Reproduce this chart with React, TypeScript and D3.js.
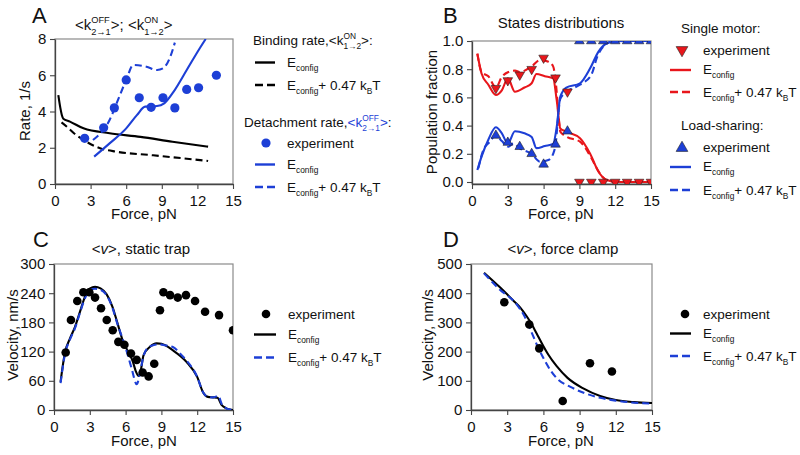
import React, { useEffect, useRef } from "react";
import * as d3 from "d3";

const FONT = "'Liberation Sans', Arial, Helvetica, sans-serif";
const BLUE = "#1d3fd6";
const RED = "#e8161b";

// ---------- Panel A data ----------
const aTicksX = [0, 3, 6, 9, 12, 15];
const aTicksY = [0, 2, 4, 6, 8];
const aBindSolidF = [0.28, 0.45, 0.6, 0.7, 1.26, 2.4, 4.6, 7.2, 9.9, 12.9];
const aBindSolidR = [4.9, 4.2, 3.75, 3.6, 3.44, 3.07, 2.8, 2.6, 2.33, 2.06];
const aBindDashF = [0.55, 1.0, 1.6, 2.4, 3.8, 5.2, 8.0, 10, 12.9];
const aBindDashR = [3.4, 3.16, 2.8, 2.43, 1.97, 1.78, 1.6, 1.47, 1.27];
const aDetSolidF = [3.3, 4.6, 6.0, 6.9, 7.6, 8.6, 9.2, 10, 11.1, 12.2, 12.7];
const aDetSolidR = [1.51, 2.24, 3.07, 3.8, 4.27, 4.3, 4.45, 5.1, 6.29, 7.49, 8.0];
const aDetDashF = [3.2, 4.6, 5.3, 6.0, 6.6, 7.7, 8.6, 9.1, 9.7, 10.1];
const aDetDashR = [2.43, 3.53, 4.63, 5.74, 6.57, 6.47, 6.29, 6.38, 7.0, 7.8];
const aExpF = [2.5, 4.1, 5.0, 6.0, 7.1, 8.1, 9.1, 10.1, 11.1, 12.1, 13.6];
const aExpR = [2.52, 3.1, 4.2, 5.74, 4.76, 4.23, 4.76, 4.2, 5.22, 5.31, 6.0];

// ---------- Panel B data ----------
const bTicksY = [0, 0.2, 0.4, 0.6, 0.8, 1.0];
const bSolidF = [0.45, 0.8, 1.37, 2.0, 2.5, 3.0, 3.6, 4.4, 5.0, 5.4, 6.1, 6.8, 7.1, 7.4, 7.9, 9.05, 9.9, 10.6, 11.3, 12, 13, 14, 15];
const bRedSolidP = [0.91, 0.77, 0.69, 0.617, 0.65, 0.735, 0.64, 0.67, 0.7, 0.766, 0.75, 0.735, 0.58, 0.38, 0.357, 0.31, 0.2, 0.073, 0.014, 0.002, 0, 0, 0];
const bBlueSolidP = [0.085, 0.18, 0.3, 0.388, 0.345, 0.274, 0.36, 0.345, 0.32, 0.24, 0.255, 0.27, 0.39, 0.605, 0.67, 0.7, 0.806, 0.925, 0.984, 0.998, 1, 1, 1];
const bRedDashF = [0.45, 0.8, 1.37, 2.0, 2.5, 3.05, 3.6, 4.0, 5.0, 5.7, 6.4, 6.8, 7.04, 7.23, 7.4, 7.95, 9.05, 10, 10.5, 11, 11.5, 12, 13, 14, 15];
const bRedDashP = [0.91, 0.78, 0.75, 0.67, 0.745, 0.78, 0.79, 0.78, 0.82, 0.865, 0.853, 0.82, 0.69, 0.5, 0.357, 0.32, 0.286, 0.17, 0.09, 0.03, 0.005, 0, 0, 0, 0];
const bBlueDashF = [0.53, 0.95, 1.5, 2.0, 2.5, 3.05, 3.47, 4.0, 5.0, 5.7, 6.4, 6.8, 7.04, 7.2, 7.4, 7.95, 9.05, 10, 10.5, 11, 11.5, 12, 13, 14, 15];
const bBlueDashP = [0.097, 0.227, 0.286, 0.333, 0.29, 0.25, 0.274, 0.239, 0.2, 0.144, 0.156, 0.2, 0.29, 0.45, 0.59, 0.64, 0.69, 0.76, 0.89, 0.96, 0.99, 1, 1, 1, 1];
const bExpF = [2, 3, 4, 5, 6, 7, 8, 9, 10, 11, 12, 13, 14, 15];
const bSingleP = [0.665, 0.72, 0.76, 0.8, 0.88, 0.74, 0.64, 0, 0, 0, 0, 0, 0, 0];
const bLoadP = [0.33, 0.28, 0.25, 0.2, 0.125, 0.267, 0.36, 1, 1, 1, 1, 1, 1, 1];

// ---------- Panel C data ----------
const cTicksY = [0, 60, 120, 180, 240, 300];
const cSolidF = [0.55, 0.92, 1.34, 1.76, 2.18, 2.6, 3.02, 3.44, 3.9, 4.4, 4.9, 5.3, 5.8, 6.3, 6.6, 6.85, 7.1, 7.3, 7.5, 8.05, 8.6, 9.0, 10.0, 11.1, 12.0, 12.5, 12.9, 13.35, 13.7, 14.06, 14.4, 14.75, 15];
const cSolidV = [58, 118, 147, 171, 202, 233, 250, 253, 250, 238, 212, 180, 140, 116, 100, 80, 70, 85, 112, 130, 137, 136, 122, 99, 68, 36, 27, 26, 25, 10, 4, 1, 0];
const cDashF = [0.55, 0.92, 1.34, 1.76, 2.18, 2.6, 3.02, 3.44, 3.9, 4.4, 4.9, 5.3, 5.7, 6.1, 6.5, 6.93, 7.2, 7.49, 7.82, 8.3, 8.8, 9.3, 10.0, 10.6, 11.1, 12.0, 12.5, 12.9, 13.35, 13.77, 14.06, 14.4, 14.75, 15];
const cDashV = [55, 115, 145, 168, 200, 230, 247, 249, 247, 236, 210, 178, 150, 120, 86, 53, 75, 110, 127, 133, 135, 133, 129, 115, 102, 68, 36, 27, 26, 29, 12, 4, 1, 0];
const cExpF = [0.98, 1.42, 1.95, 2.46, 2.96, 3.44, 3.94, 4.42, 4.92, 5.39, 5.9, 6.45, 6.93, 7.43, 7.93, 8.4, 8.88, 9.17, 9.73, 10.37, 11.06, 11.82, 12.66, 13.83, 15.0];
const cExpV = [118, 185, 224, 242, 242, 231, 209, 185, 164, 140, 134, 116, 103, 77, 69, 95, 205, 242, 236, 231, 236, 224, 202, 195, 164];

// ---------- Panel D data ----------
const dTicksY = [0, 100, 200, 300, 400, 500];
const dSolidF = [1.08, 2.4, 3.5, 4.1, 4.6, 5.0, 5.44, 5.9, 6.4, 7.1, 8.0, 9.3, 10.7, 12.0, 13.5, 15];
const dSolidV = [470, 420, 375, 350, 322, 296, 262, 226, 190, 150, 110, 74, 48, 34, 27, 24];
const dDashF = [1.08, 2.4, 3.78, 4.47, 5.03, 5.5, 6.1, 6.6, 7.2, 8.2, 9.4, 10.7, 12.0, 13.0, 15];
const dDashV = [468, 412, 362, 318, 265, 220, 170, 135, 105, 80, 58, 42, 32, 27, 22];
const dExpF = [2.76, 4.83, 5.66, 7.6, 9.86, 11.68];
const dExpV = [369, 293, 211, 31, 160, 132];

type Part = { t?: string; sup?: string; sub?: string; fill?: string; italic?: boolean };

function rich(
  sel: any,
  x: number,
  y: number,
  parts: Part[],
  size: number,
  anchor: "start" | "middle" = "start",
  rotate = 0
) {
  const g = sel.append("g");
  const text = g.append("text").attr("x", 0).attr("y", 0).attr("font-size", size).attr("font-family", FONT).attr("fill", "#111");
  let shift = 0;
  const small = size * 0.62;
  parts.forEach((p) => {
    if (p.t !== undefined) {
      const ts = text.append("tspan").attr("dy", -shift).attr("font-size", size).text(p.t);
      if (p.fill) ts.attr("fill", p.fill);
      if (p.italic) ts.attr("font-style", "italic");
      shift = 0;
    } else if (p.sup !== undefined && p.sub !== undefined) {
      const upY = -size * 0.45;
      const dnY = size * 0.3;
      const a = text.append("tspan").attr("dy", upY - shift).attr("font-size", small).text(p.sup);
      if (p.fill) a.attr("fill", p.fill);
      const wa = (a.node() as any).getComputedTextLength();
      const b = text.append("tspan").attr("dx", -wa).attr("dy", dnY - upY).attr("font-size", small).text(p.sub);
      if (p.fill) b.attr("fill", p.fill);
      const wb = (b.node() as any).getComputedTextLength();
      shift = dnY;
      if (wa > wb) {
        const c = text.append("tspan").attr("dx", wa - wb).text("");
      }
    } else if (p.sub !== undefined) {
      const dnY = size * 0.3;
      const b = text.append("tspan").attr("dy", dnY - shift).attr("font-size", small).text(p.sub);
      if (p.fill) b.attr("fill", p.fill);
      shift = dnY;
    } else if (p.sup !== undefined) {
      const upY = -size * 0.45;
      const b = text.append("tspan").attr("dy", upY - shift).attr("font-size", small).text(p.sup);
      if (p.fill) b.attr("fill", p.fill);
      shift = upY;
    }
  });
  const w = (text.node() as any).getComputedTextLength();
  const off = anchor === "middle" ? -w / 2 : 0;
  text.attr("x", off);
  g.attr("transform", `translate(${x},${y}) rotate(${rotate})`);
  return g;
}

const EC: Part[] = [{ t: "E" }, { sub: "config" }];
const ECK: Part[] = [{ t: "E" }, { sub: "config" }, { t: "+ 0.47 k" }, { sub: "B" }, { t: "T" }];

interface Box { x0: number; x1: number; y0: number; y1: number; }

function makePanel(svg: any, id: string, box: Box, yDomain: [number, number], yTicks: number[], yMinor: number[], yFmt: (v: number) => string) {
  const x = d3.scaleLinear().domain([0, 15]).range([box.x0, box.x1]);
  const y = d3.scaleLinear().domain(yDomain).range([box.y1, box.y0]);
  const g = svg.append("g");
  g.append("clipPath").attr("id", id).append("rect").attr("x", box.x0).attr("y", box.y0).attr("width", box.x1 - box.x0).attr("height", box.y1 - box.y0);
  // frame
  g.append("rect").attr("x", box.x0).attr("y", box.y0).attr("width", box.x1 - box.x0).attr("height", box.y1 - box.y0).attr("fill", "none").attr("stroke", "#8a8a8a").attr("stroke-width", 1.2);
  const xMinor = d3.range(0, 16, 1).filter((v) => v % 3 !== 0);
  const axX = g.append("g").attr("transform", `translate(0,${box.y1})`);
  axX.call(d3.axisBottom(x).tickValues(xMinor).tickSize(3).tickFormat(() => ""));
  axX.call(d3.axisBottom(x).tickValues(aTicksX).tickSize(5).tickSizeOuter(0).tickFormat((d: any) => String(d)));
  const axY = g.append("g").attr("transform", `translate(${box.x0},0)`);
  axY.call(d3.axisLeft(y).tickValues(yMinor).tickSize(3).tickFormat(() => ""));
  axY.call(d3.axisLeft(y).tickValues(yTicks).tickSize(5).tickSizeOuter(0).tickFormat((d: any) => yFmt(d)));
  [axX, axY].forEach((a) => {
    a.selectAll("path").attr("stroke", "#444").attr("stroke-width", 1.3);
    a.selectAll("line").attr("stroke", "#444").attr("stroke-width", 1.1);
    a.selectAll("text").attr("font-family", FONT).attr("font-size", 15).attr("fill", "#111");
  });
  axX.selectAll("text").attr("dy", "0.95em");
  axY.selectAll("text").attr("dx", "-0.05em");
  const plot = g.append("g").attr("clip-path", `url(#${id})`);
  return { x, y, g, plot };
}

function drawLine(plot: any, x: any, y: any, fs: number[], vs: number[], color: string, dashed: boolean) {
  const pts: [number, number][] = fs.map((f, i) => [f, vs[i]]);
  const line = d3.line<[number, number]>().x((d) => x(d[0])).y((d) => y(d[1])).curve(d3.curveMonotoneX);
  plot.append("path").attr("d", line(pts)).attr("fill", "none").attr("stroke", color).attr("stroke-width", 2.1)
    .attr("stroke-dasharray", dashed ? "7,4" : null).attr("stroke-linejoin", "round");
}

function drawDots(plot: any, x: any, y: any, fs: number[], vs: number[], color: string, r: number) {
  plot.selectAll(null).data(fs.map((f, i) => [f, vs[i]])).enter().append("circle")
    .attr("cx", (d: any) => x(d[0])).attr("cy", (d: any) => y(d[1])).attr("r", r).attr("fill", color);
}

function drawTri(plot: any, x: any, y: any, fs: number[], vs: number[], color: string, down: boolean, size: number) {
  const sym = d3.symbol().type(d3.symbolTriangle).size(size);
  plot.selectAll(null).data(fs.map((f, i) => [f, vs[i]])).enter().append("path")
    .attr("d", sym() as string)
    .attr("transform", (d: any) => `translate(${x(d[0])},${y(d[1])}) rotate(${down ? 180 : 0})`)
    .attr("fill", color).attr("stroke", "#222").attr("stroke-width", 0.6);
}

function legLine(svg: any, x0: number, x1: number, yy: number, color: string, dashed: boolean) {
  svg.append("line").attr("x1", x0).attr("x2", x1).attr("y1", yy).attr("y2", yy).attr("stroke", color).attr("stroke-width", 2.4)
    .attr("stroke-dasharray", dashed ? "8,4" : null);
}

function label(svg: any, x: number, y: number, txt: string, size: number, anchor = "middle", rotate = 0, weight = "normal") {
  svg.append("text").attr("transform", `translate(${x},${y}) rotate(${rotate})`).attr("text-anchor", anchor)
    .attr("font-family", FONT).attr("font-size", size).attr("font-weight", weight).attr("fill", "#111").text(txt);
}

export default function App() {
  const ref = useRef<SVGSVGElement>(null);
  useEffect(() => {
    const svg = d3.select(ref.current);
    svg.selectAll("*").remove();
    svg.append("rect").attr("width", 800).attr("height", 455).attr("fill", "#fff");

    const LS = 13.5; // legend font size

    // ---------------- Panel A ----------------
    const A = makePanel(svg, "clipA", { x0: 55, x1: 233, y0: 39, y1: 184 }, [0, 8], aTicksY, [1, 3, 5, 7], (d) => String(d));
    drawLine(A.plot, A.x, A.y, aBindSolidF, aBindSolidR, "#000", false);
    drawLine(A.plot, A.x, A.y, aBindDashF, aBindDashR, "#000", true);
    drawLine(A.plot, A.x, A.y, aDetSolidF, aDetSolidR, BLUE, false);
    drawLine(A.plot, A.x, A.y, aDetDashF, aDetDashR, BLUE, true);
    drawDots(A.plot, A.x, A.y, aExpF, aExpR, BLUE, 4.6);
    label(svg, 32, 23, "A", 22, "start");
    rich(svg, 140, 30, [{ t: "<k" }, { sup: "OFF", sub: "2\u21921" }, { t: ">; <k" }, { sup: "ON", sub: "1\u21922" }, { t: ">" }], 15, "middle");
    label(svg, 30, 111, "Rate, 1/s", 15, "middle", -90);
    label(svg, 144, 219, "Force, pN", 15, "middle");
    // legend A
    rich(svg, 253, 45, [{ t: "Binding rate,<k" }, { sup: "ON", sub: "1\u21922" }, { t: ">:" }], LS);
    legLine(svg, 255, 275, 62.5, "#000", false);
    rich(svg, 287, 67, EC, LS);
    legLine(svg, 255, 275, 85, "#000", true);
    rich(svg, 287, 90, ECK, LS);
    rich(svg, 244, 127, [{ t: "Detachment rate," }, { t: "<k", fill: BLUE }, { sup: "OFF", sub: "2\u21921", fill: BLUE }, { t: ">", fill: BLUE }, { t: ":" }], LS);
    svg.append("circle").attr("cx", 266).attr("cy", 143).attr("r", 4.6).attr("fill", BLUE);
    rich(svg, 287, 148, [{ t: "experiment" }], LS);
    legLine(svg, 255, 275, 164.5, BLUE, false);
    rich(svg, 287, 169, EC, LS);
    legLine(svg, 255, 275, 187, BLUE, true);
    rich(svg, 287, 192, ECK, LS);

    // ---------------- Panel B ----------------
    const B = makePanel(svg, "clipB", { x0: 472, x1: 651, y0: 41, y1: 184 }, [-0.0142, 1.0], bTicksY, [0.1, 0.3, 0.5, 0.7, 0.9], (d) => d.toFixed(1));
    drawLine(B.plot, B.x, B.y, bSolidF, bRedSolidP, RED, false);
    drawLine(B.plot, B.x, B.y, bRedDashF, bRedDashP, RED, true);
    drawLine(B.plot, B.x, B.y, bSolidF, bBlueSolidP, BLUE, false);
    drawLine(B.plot, B.x, B.y, bBlueDashF, bBlueDashP, BLUE, true);
    drawTri(B.plot, B.x, B.y, bExpF, bSingleP, RED, true, 40);
    drawTri(B.plot, B.x, B.y, bExpF, bLoadP, BLUE, false, 40);
    label(svg, 443, 23, "B", 22, "start");
    label(svg, 561, 28, "States distributions", 15, "middle");
    label(svg, 437, 112, "Population fraction", 15, "middle", -90);
    label(svg, 561, 219, "Force, pN", 15, "middle");
    // legend B
    rich(svg, 681, 33, [{ t: "Single motor:" }], LS);
    svg.append("path").attr("d", d3.symbol().type(d3.symbolTriangle).size(60)() as string)
      .attr("transform", "translate(682,50) rotate(180)").attr("fill", RED).attr("stroke", "#222").attr("stroke-width", 0.6);
    rich(svg, 703, 55, [{ t: "experiment" }], LS);
    legLine(svg, 670, 691, 70, RED, false);
    rich(svg, 703, 74, EC, LS);
    legLine(svg, 670, 691, 92, RED, true);
    rich(svg, 703, 97, ECK, LS);
    rich(svg, 681, 130, [{ t: "Load-sharing:" }], LS);
    svg.append("path").attr("d", d3.symbol().type(d3.symbolTriangle).size(60)() as string)
      .attr("transform", "translate(682,148)").attr("fill", BLUE).attr("stroke", "#222").attr("stroke-width", 0.6);
    rich(svg, 703, 152, [{ t: "experiment" }], LS);
    legLine(svg, 670, 691, 167, BLUE, false);
    rich(svg, 703, 171, EC, LS);
    legLine(svg, 670, 691, 190, BLUE, true);
    rich(svg, 703, 195, ECK, LS);

    // ---------------- Panel C ----------------
    const C = makePanel(svg, "clipC", { x0: 54, x1: 233, y0: 264, y1: 410 }, [0, 300], cTicksY, [30, 90, 150, 210, 270], (d) => String(d));
    drawLine(C.plot, C.x, C.y, cSolidF, cSolidV, "#000", false);
    drawLine(C.plot, C.x, C.y, cDashF, cDashV, BLUE, true);
    drawDots(C.plot, C.x, C.y, cExpF, cExpV, "#000", 4.3);
    label(svg, 33, 247, "C", 22, "start");
    rich(svg, 141, 254, [{ t: "<" }, { t: "v", italic: true }, { t: ">, static trap" }], 15, "middle");
    label(svg, 18, 335, "Velocity, nm/s", 15, "middle", -90);
    label(svg, 144, 446, "Force, pN", 15, "middle");
    // legend C
    svg.append("circle").attr("cx", 266).attr("cy", 314).attr("r", 4.3).attr("fill", "#000");
    rich(svg, 288, 319, [{ t: "experiment" }], LS);
    legLine(svg, 254, 276, 334.5, "#000", false);
    rich(svg, 288, 339, EC, LS);
    legLine(svg, 254, 276, 357.5, BLUE, true);
    rich(svg, 288, 362, ECK, LS);

    // ---------------- Panel D ----------------
    const D = makePanel(svg, "clipD", { x0: 471, x1: 652, y0: 264, y1: 410 }, [0, 500], dTicksY, [50, 150, 250, 350, 450], (d) => String(d));
    drawLine(D.plot, D.x, D.y, dSolidF, dSolidV, "#000", false);
    drawLine(D.plot, D.x, D.y, dDashF, dDashV, BLUE, true);
    drawDots(D.plot, D.x, D.y, dExpF, dExpV, "#000", 4.3);
    label(svg, 443, 247, "D", 22, "start");
    rich(svg, 563, 254, [{ t: "<" }, { t: "v", italic: true }, { t: ">, force clamp" }], 15, "middle");
    label(svg, 433, 335, "Velocity, nm/s", 15, "middle", -90);
    label(svg, 561, 446, "Force, pN", 15, "middle");
    // legend D
    svg.append("circle").attr("cx", 685).attr("cy", 314).attr("r", 4.3).attr("fill", "#000");
    rich(svg, 703, 319, [{ t: "experiment" }], LS);
    legLine(svg, 670, 691, 333.5, "#000", false);
    rich(svg, 703, 338, EC, LS);
    legLine(svg, 670, 691, 356, BLUE, true);
    rich(svg, 703, 361, ECK, LS);
  }, []);
  return (
    <svg ref={ref} width={800} height={455} style={{ position: "absolute", left: 0, top: 0, display: "block" }} />
  );
}
